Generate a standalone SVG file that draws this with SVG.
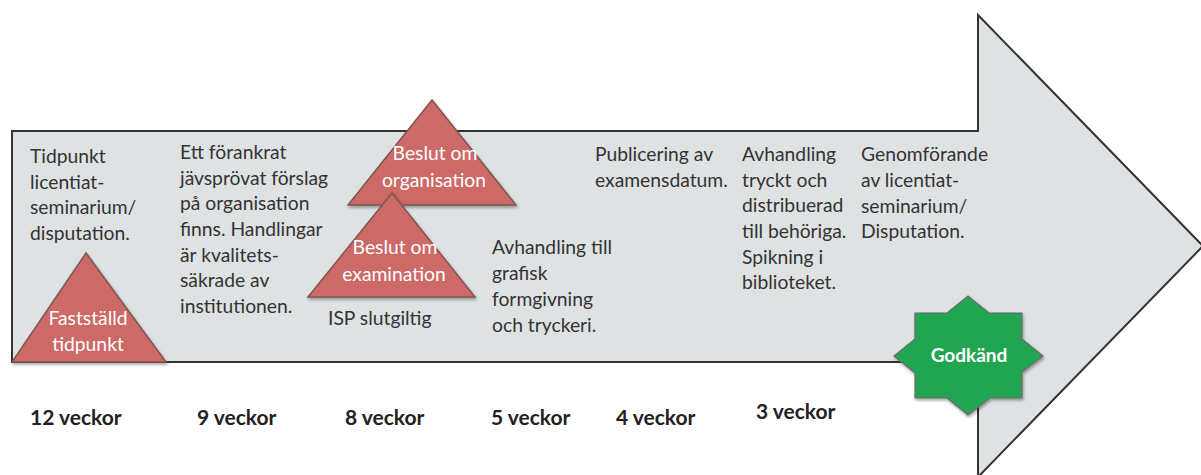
<svg xmlns="http://www.w3.org/2000/svg" width="1201" height="475" viewBox="0 0 1201 475">
<style>
.t{font-family:Lato,"Liberation Sans",sans-serif;font-size:19.3px;fill:#333}
.w{font-family:Lato,"Liberation Sans",sans-serif;font-size:19.3px;fill:#fff;text-anchor:middle}
.b{font-family:Lato,"Liberation Sans",sans-serif;font-size:21px;font-weight:bold;fill:#222}
.tri{fill:#cd6966;stroke:#7f5553;stroke-width:1.5;filter:url(#sh)}
</style>
<defs>
<filter id="sh" x="-10%" y="-10%" width="120%" height="130%">
<feDropShadow dx="1" dy="2" stdDeviation="1.5" flood-color="#000" flood-opacity="0.35"/>
</filter>
</defs>
<rect width="1201" height="475" fill="#fff"/>
<g id="arrow">
<polygon points="12,131 978,131 978,15 1203,246 978,477 978,362 12,362" fill="#dfe2e3" stroke="#333" stroke-width="2"/>
</g>
<g id="connectors"></g>
<g id="col1">
<text class="t" x="30" y="163">Tidpunkt</text>
<text class="t" x="30" y="188.5">licentiat-</text>
<text class="t" x="30" y="214">seminarium/</text>
<text class="t" x="30" y="239.5">disputation.</text>
</g>
<g id="col2">
<text class="t" x="180" y="159">Ett förankrat</text>
<text class="t" x="180" y="185">jävsprövat förslag</text>
<text class="t" x="180" y="210">på organisation</text>
<text class="t" x="180" y="236">finns. Handlingar</text>
<text class="t" x="180" y="262">är kvalitets-</text>
<text class="t" x="180" y="287">säkrade av</text>
<text class="t" x="180" y="313">institutionen.</text>
</g>
<g id="isp">
<text class="t" x="328" y="325">ISP slutgiltig</text>
</g>
<g id="col5">
<text class="t" x="492" y="254">Avhandling till</text>
<text class="t" x="492" y="280">grafisk</text>
<text class="t" x="492" y="305.5">formgivning</text>
<text class="t" x="492" y="331.5">och tryckeri.</text>
</g>
<g id="col4">
<text class="t" x="595" y="161">Publicering av</text>
<text class="t" x="595" y="186.5">examensdatum.</text>
</g>
<g id="col3">
<text class="t" x="742" y="161">Avhandling</text>
<text class="t" x="742" y="186.5">tryckt och</text>
<text class="t" x="742" y="212">distribuerad</text>
<text class="t" x="742" y="238">till behöriga.</text>
<text class="t" x="742" y="263.5">Spikning i</text>
<text class="t" x="742" y="289">biblioteket.</text>
</g>
<g id="col0">
<text class="t" x="861" y="161">Genomförande</text>
<text class="t" x="861" y="187">av licentiat-</text>
<text class="t" x="861" y="212.5">seminarium/</text>
<text class="t" x="861" y="238">Disputation.</text>
</g>
<g id="faststalld">
<polygon class="tri" points="86,253 166,362 12,362"/>
<text class="w" x="88" y="325">Fastställd</text>
<text class="w" x="88" y="351">tidpunkt</text>
</g>
<g id="organisation">
<polygon class="tri" points="432,100 516,205 348,205"/>
<text class="w" x="435" y="160">Beslut om</text>
<text class="w" x="434" y="187">organisation</text>
</g>
<g id="examination">
<polygon class="tri" points="392,193 475,297 308,297"/>
<text class="w" x="395" y="254">Beslut om</text>
<text class="w" x="394" y="281">examination</text>
</g>
<g id="godkand">
<polygon points="968,296 989,313 1022,313 1022,339 1043,356 1022,372 1022,398 990,398 968,415 947,398 915,398 915,373 894,356 915,339 915,313 947,313" fill="#21a551" stroke="#6b6b6b" stroke-width="1.2" filter="url(#sh)"/>
<text x="969" y="362" text-anchor="middle" font-family="Lato,'Liberation Sans',sans-serif" font-size="19px" font-weight="bold" fill="#fff">Godkänd</text>
</g>
<g id="veckor">
<text class="b" x="30" y="425">12 veckor</text>
<text class="b" x="197" y="425">9 veckor</text>
<text class="b" x="345" y="425">8 veckor</text>
<text class="b" x="491" y="425">5 veckor</text>
<text class="b" x="616" y="425">4 veckor</text>
<text class="b" x="756" y="419">3 veckor</text>
</g>
</svg>
